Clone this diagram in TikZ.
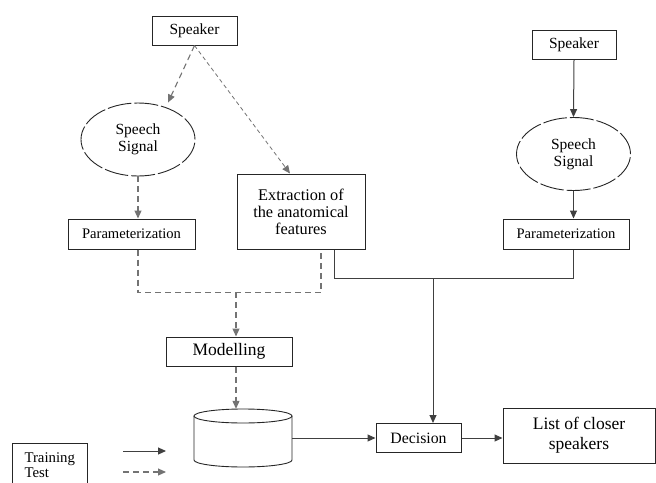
\documentclass[tikz,border=0pt]{standalone}
\usepackage{fontspec}
\setmainfont{Liberation Serif}
\usetikzlibrary{arrows.meta,shapes.geometric}

\begin{document}
\begin{tikzpicture}[x=1pt,y=-1pt,
    box/.style={draw=black!85, line width=1pt, rectangle, inner sep=0pt, align=center},
    oval/.style={draw=black!85, line width=0.9pt, ellipse, inner sep=0pt, align=center,
        dash pattern=on 24pt off 3pt, minimum width=114pt, minimum height=73pt},
    train/.style={draw=black!75, line width=1pt, -{Triangle[length=8pt,width=7pt]}},
    test/.style={draw=black!55, line width=1.1pt, dash pattern=on 6pt off 4pt,
        -{Triangle[length=8pt,width=7pt]}}]
    \useasboundingbox (0,0) rectangle (656,482);
    \clip (0,0) rectangle (656,482);

    % Training branch (left)
    \node[box, minimum width=85pt, minimum height=29pt, font=\fontsize{15.5}{17}\selectfont]
        (spkL) at (194.5,30.5) {Speaker};
    \node[oval, font=\fontsize{15.5}{17}\selectfont] (sigL) at (138,139.5) {Speech\\Signal};
    \node[box, minimum width=127pt, minimum height=30pt, font=\fontsize{14.6}{16}\selectfont]
        (parL) at (131.5,234) {Parameterization};
    \node[box, minimum width=128pt, minimum height=75pt, font=\fontsize{16.3}{17}\selectfont]
        (extr) at (301,211.5) {Extraction of\\the anatomical\\features};

    % Test branch (right)
    \node[box, minimum width=84pt, minimum height=29pt, font=\fontsize{15.5}{17}\selectfont]
        (spkR) at (574,45) {Speaker};
    \node[oval, font=\fontsize{15.5}{17}\selectfont] (sigR) at (573.5,154) {Speech\\Signal};
    \node[box, minimum width=126pt, minimum height=30pt, font=\fontsize{14.6}{16}\selectfont]
        (parR) at (566,234) {Parameterization};

    % Modelling, base and decision
    \node[box, minimum width=126pt, minimum height=29pt, font=\fontsize{17.5}{19}\selectfont]
        (model) at (229,351.5) {Modelling};
    \node[minimum width=98pt, minimum height=58pt, inner sep=0pt] (db) at (243,438) {};
    \node[box, minimum width=85pt, minimum height=29pt, font=\fontsize{15.8}{17}\selectfont]
        (dec) at (418.5,438) {Decision};
    \node[box, minimum width=152pt, minimum height=55pt, font=\fontsize{17.5}{20}\selectfont]
        (list) at (579,435.5) {List of closer\\speakers};

    % Draw the database cylinder
    \draw[black!85, line width=0.9pt, fill=white] (194,416) -- (194,460)
        arc[start angle=180, end angle=360, x radius=49pt, y radius=7pt] -- (292,416);
    \draw[black!85, line width=0.9pt] (243,416) ellipse[x radius=49pt, y radius=7pt];

    % Legend
    \node[box, anchor=north west, align=left, inner xsep=12pt, inner ysep=9pt,
        text width=51pt, font=\fontsize{14.8}{15}\selectfont] (legend) at (12,443)
        {Training\\Test\\[14pt]};
    \coordinate (ltr) at (123,451);
    \coordinate (lte) at (123,472);
    \draw[train] (ltr) -- ++(43,0);
    \draw[test] (lte) -- ++(43,0);

    % Training connectors (dashed)
    \draw[test] (spkL.south) -- ([xshift=30pt]sigL.north);
    \draw[test, dash pattern=on 4pt off 3pt, line width=0.8pt] (spkL.south) -- ([xshift=-11pt]extr.north);
    \draw[test] (sigL.south) -- (sigL.south |- parL.north);
    \draw[test, -] (sigL.south |- parL.south) -- ++(0,43) coordinate (bl)
        -| ([xshift=20pt]extr.south);
    \coordinate (mj) at (236,292);
    \draw[test] (mj) -- (mj |- model.north);
    \draw[test] (mj |- model.south) -- (mj |- db.north);

    % Test connectors (solid)
    \draw[train] (spkR.south) -- (sigR.north);
    \draw[train] (sigR.south) -- (sigR.south |- parR.north);
    \draw[train, -] ([xshift=33pt]extr.south) -- ++(0,29) -| (sigR.south |- parR.south);
    \coordinate (sj) at (433,278);
    \draw[train] (sj) -- (sj |- dec.north);
    \draw[train] (db.east) -- (dec.west);
    \draw[train] (dec.east) -- (dec.east -| list.west);
\end{tikzpicture}
\end{document}
